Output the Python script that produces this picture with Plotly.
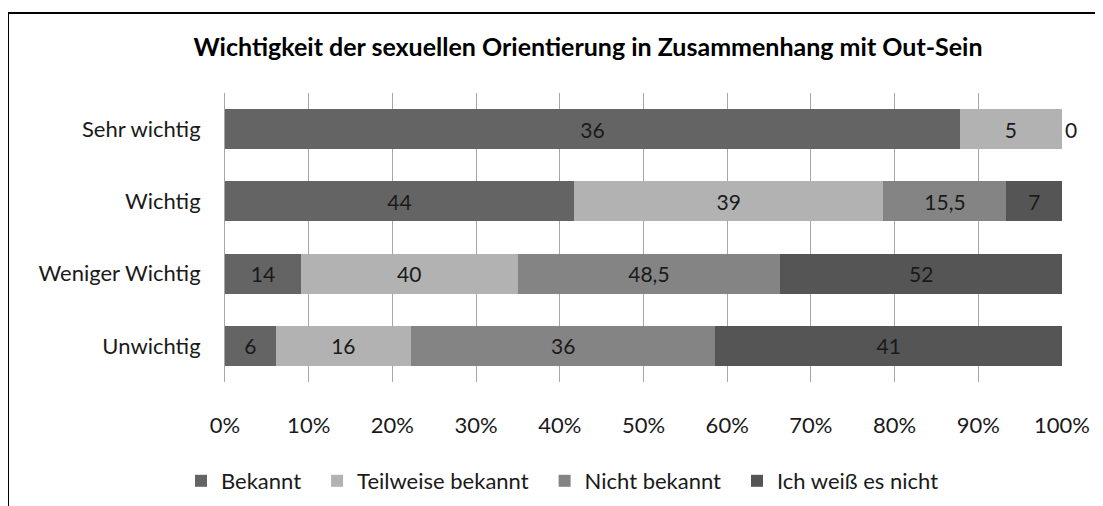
import plotly.graph_objects as go

categories = ["Sehr wichtig", "Wichtig", "Weniger Wichtig", "Unwichtig"]
series_names = ["Bekannt", "Teilweise bekannt", "Nicht bekannt", "Ich weiß es nicht"]
bekannt = [36, 44, 14, 6]
teilweise = [5, 39, 40, 16]
nicht_bekannt = [0, 15.5, 48.5, 36]
weiss_nicht = [None, 7, 52, 41]
tick_vals = [0, 10, 20, 30, 40, 50, 60, 70, 80, 90, 100]
tick_text = ["0%", "10%", "20%", "30%", "40%", "50%", "60%", "70%", "80%", "90%", "100%"]
colors = ["#646464", "#b2b2b2", "#848484", "#555555"]

FONT = "Lato"
OFF = 8  # page body margin
W, H = 1103, 506
L, R, T, B = 217, 49, 85, 132
pw, ph = W - L - R, H - T - B
PAD = "\u2002"  # spacing after legend entries


def fmt(v):
    if v is None:
        return ""
    return ("%g" % v).replace(".", ",")


def px_x(p):
    return (p - OFF - L) / pw


def px_y(p):
    return (H - B - (p - OFF)) / ph


fig = go.Figure()
for name, vals, col in zip(series_names, [bekannt, teilweise, nicht_bekannt, weiss_nicht], colors):
    fig.add_trace(go.Bar(
        y=categories, x=vals, name=name + PAD, orientation="h",
        marker=dict(color=col, line=dict(width=0)),
        text=[fmt(v) for v in vals],
        textposition=["outside" if v == 0 else "inside" for v in vals],
        insidetextanchor="middle", textangle=0,
        textfont=dict(family=FONT, size=21, color="#1a1a1a"),
        outsidetextfont=dict(family=FONT, size=21, color="#1a1a1a"),
        cliponaxis=False,
    ))

fig.update_layout(
    width=W, height=H,
    barmode="stack", barnorm="percent", bargap=0.446,
    margin=dict(l=L, r=R, t=T, b=B, pad=0),
    paper_bgcolor="white", plot_bgcolor="white",
    font=dict(family=FONT, size=22, color="#1a1a1a"),
    title=dict(text="<b>Wichtigkeit der sexuellen Orientierung in Zusammenhang mit Out-Sein</b>",
               x=(588 - OFF) / W, xanchor="center", y=1 - (47 - OFF) / H, yanchor="middle",
               xref="container", yref="container",
               font=dict(family=FONT, size=25, color="#000000")),
    xaxis=dict(range=[0, 100], tickvals=tick_vals, ticktext=tick_text,
               showgrid=True, gridcolor="#a6a6a6", gridwidth=1,
               zeroline=False, showline=False, ticks="",
               ticklabelstandoff=28, fixedrange=True,
               tickfont=dict(family=FONT, size=22, color="#1a1a1a")),
    yaxis=dict(autorange="reversed", showline=True, linecolor="#a6a6a6", linewidth=1,
               ticks="", ticklabelstandoff=19, showgrid=False, fixedrange=True,
               tickfont=dict(family=FONT, size=22, color="#1a1a1a")),
    legend=dict(orientation="h", x=px_x(181), xanchor="left", y=px_y(481), yanchor="middle",
                font=dict(family=FONT, size=22, color="#1a1a1a"), traceorder="normal",
                itemwidth=30),
    showlegend=True,
    shapes=[dict(type="rect", xref="paper", yref="paper",
                 x0=px_x(8), x1=px_x(1130), y0=px_y(540), y1=px_y(13),
                 line=dict(color="#000000", width=2), fillcolor="rgba(0,0,0,0)", layer="above")],
)

fig.write_html("out.html")
